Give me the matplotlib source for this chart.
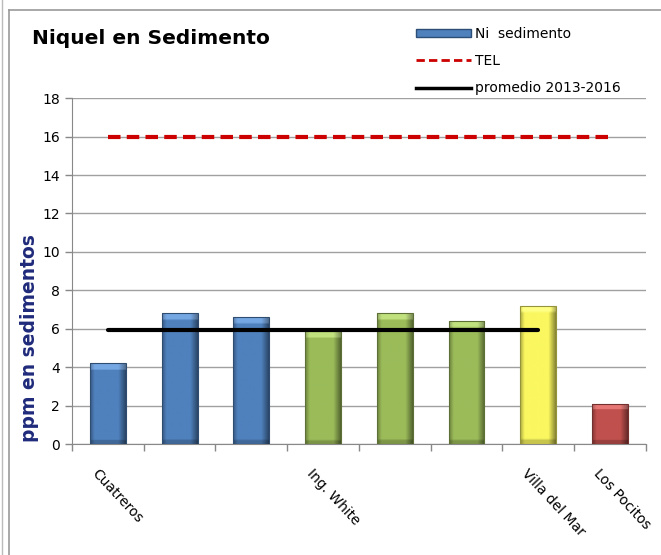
import matplotlib
matplotlib.use('Agg')
import matplotlib.pyplot as plt
from matplotlib.lines import Line2D
from matplotlib.patches import Patch
from matplotlib.colors import to_rgb
from matplotlib.transforms import offset_copy
import numpy as np

plt.rc('font', family='DejaVu Sans', size=10)

stations = ['Cuatreros', '', '', 'Ing. White', '', '', 'Villa del Mar', 'Los Pocitos']
ni_sed = [4.2, 6.8, 6.6, 5.9, 6.8, 6.4, 7.2, 2.1]
bar_colors = ['#4F81BD', '#4F81BD', '#4F81BD', '#9BBB59', '#9BBB59', '#9BBB59', '#FAF760', '#C0504D']
tel = [16] * 8
promedio = [5.95] * 7

fig = plt.figure(figsize=(6.61, 5.55), dpi=100)
ax = fig.add_axes([0.109, 0.2, 0.868, 0.623])

x = np.arange(1, len(ni_sed) + 1)
bars = ax.bar(x, ni_sed, width=0.5, color=bar_colors, linewidth=0, zorder=3)

# shaded look: darker sides, lighter bevel at top
nx, ny = 40, 60
u = np.linspace(0, 1, nx)
side = np.clip(1.0 - 0.45 * np.clip((u - 0.8) / 0.2, 0, 1) - 0.3 * np.clip((0.12 - u) / 0.12, 0, 1), 0, 1)
for b, c in zip(bars, bar_colors):
    x0, w, h = b.get_x(), b.get_width(), b.get_height()
    rgb = np.array(to_rgb(c))
    img = np.ones((ny, nx, 3)) * rgb
    img = img * side[None, :, None]
    bevel = 0.3 / h * ny  # rows for bevel
    rows = np.arange(ny)[:, None]
    top = rows < bevel
    img = np.where(top[..., None], np.clip(img + 0.15, 0, 1), img)
    bottom = rows > ny - 1 - bevel * 0.6
    img = np.where(bottom[..., None], img * 0.8, img)
    im = ax.imshow(img, extent=(x0, x0 + w, 0, h), aspect='auto', zorder=3, interpolation='bilinear')
    im.set_clip_path(b)
    ax.add_patch(plt.Rectangle((x0, 0), w, h, fill=False, edgecolor=rgb * 0.6, linewidth=0.8, zorder=4))

ax.plot(x, tel, color='#CC0000', linestyle=(0, (3, 1.5)), linewidth=3, zorder=5)
ax.plot(x[:len(promedio)], promedio, color='black', linewidth=3, solid_capstyle='round', zorder=5)

ax.set_xlim(0.5, 8.5)
ax.set_ylim(0, 18)
ax.set_yticks(np.arange(0, 19, 2))
ax.set_xticks(np.arange(0.5, 9, 1))
ax.set_xticklabels([])
ax.tick_params(axis='both', colors='#888888', labelcolor='black', length=5, width=1, labelsize=10)
ax.grid(axis='y', color='#A0A0A0', linewidth=1, zorder=0)
for s in ['top', 'right']:
    ax.spines[s].set_visible(False)
for s in ['left', 'bottom']:
    ax.spines[s].set_color('#888888')

for xi, name in zip(x, stations):
    if name:
        tr = offset_copy(ax.transData, fig=fig, x=-9, y=-22, units='dots')
        ax.text(xi, 0, name, transform=tr, rotation=-47, rotation_mode='anchor',
                ha='left', va='top', fontsize=10, clip_on=False)

ax.set_ylabel('ppm en sedimentos', fontsize=13.5, fontweight='bold', color='#1F2A7A', labelpad=2)
ax.yaxis.set_label_coords(-0.057, 0.305)

fig.text(0.048, 0.93, 'Niquel en Sedimento', fontsize=14.5, fontweight='bold', va='center')

handles = [Patch(facecolor='#4F81BD', edgecolor='#2C4D75'),
           Line2D([], [], color='#CC0000', linestyle=(0, (3, 1.5)), linewidth=2),
           Line2D([], [], color='black', linewidth=2.5)]
labels = ['Ni  sedimento', 'TEL', 'promedio 2013-2016']
fig.legend(handles, labels, loc='upper left', bbox_to_anchor=(0.61, 0.974), frameon=False,
           handlelength=4, handleheight=0.6, handletextpad=0.3, labelspacing=0.95, fontsize=10)

fig.add_artist(Line2D([9 / 661, 9 / 661], [0, 1 - 10 / 555], color='#999999', linewidth=1.2))
fig.add_artist(Line2D([9 / 661, 1], [1 - 10 / 555, 1 - 10 / 555], color='#999999', linewidth=1.2))
fig.add_artist(Line2D([2 / 661, 2 / 661], [0, 1], color='#BBBBBB', linewidth=1))

fig.savefig('out.png', dpi=100)
